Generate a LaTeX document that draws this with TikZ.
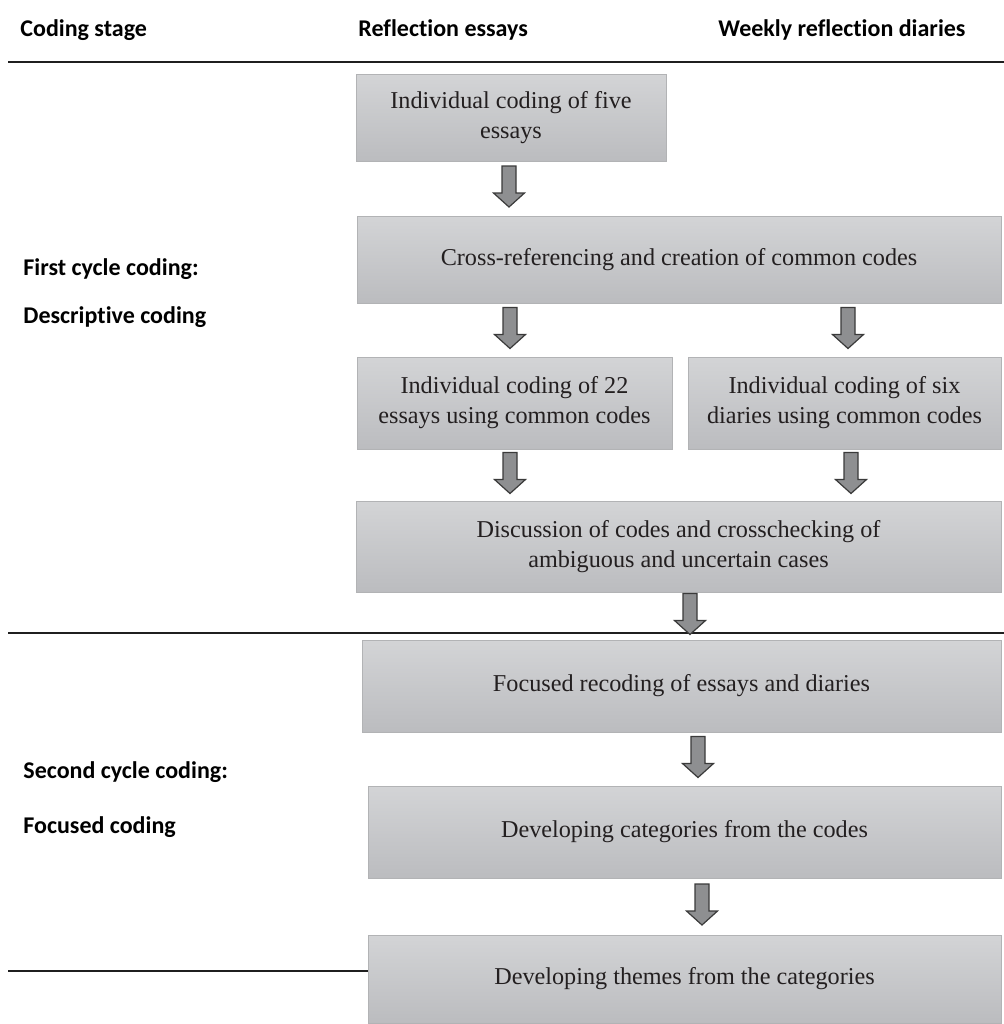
\documentclass[tikz,border=0pt]{standalone}
\usepackage{fontspec}
\setmainfont{Liberation Serif}
\newfontfamily\headfont{Carlito}[Ligatures=NoCommon]
\usetikzlibrary{calc}
\definecolor{boxtop}{HTML}{D3D4D6}
\definecolor{boxbot}{HTML}{BBBCBF}
\definecolor{boxedge}{HTML}{B2B3B5}
\definecolor{arrfill}{HTML}{8E8F91}
\definecolor{arredge}{HTML}{3A3A3A}
\definecolor{ink}{HTML}{231F20}
\tikzset{
  stagebox/.style={rectangle, top color=boxtop, bottom color=boxbot, draw=boxedge,
    line width=0.5pt, inner sep=0pt, align=center, text=ink,
    font=\fontsize{12.1}{15}\selectfont},
  heading/.style={anchor=west, inner sep=0pt, text=black,
    font=\headfont\bfseries\fontsize{12}{14}\selectfont},
  rule/.style={line width=1.25pt, draw=black!88},
  flowshape/.style={fill=arrfill, draw=arredge, line width=0.6pt, line join=miter}
}
% block arrow at the x of #1, centred in the gap between nodes #2 (above) and #3 (below)
\newcommand\flowarrow[3]{%
  \path[flowshape] let \p1=(#2.south -| #1), \p2=(#3.north -| #1),
      \n1={(\y1+\y2)/2+1pt} in
    ({\x1-3.5pt},{\n1+10.25pt}) -- ({\x1+3.5pt},{\n1+10.25pt})
    -- ({\x1+3.5pt},{\n1-3.25pt}) -- ({\x1+7.75pt},{\n1-3.25pt})
    -- (\x1,{\n1-10.25pt}) -- ({\x1-7.75pt},{\n1-3.25pt})
    -- ({\x1-3.5pt},{\n1-3.25pt}) -- cycle;}
\begin{document}
\begin{tikzpicture}[x=0.5pt,y=-0.5pt]
\useasboundingbox (0,0) rectangle (1004,1024);

% column headings
\node[heading] (hstage) at (20,30) {Coding stage};
\node[heading] (hessay) at (358,30) {Reflection essays};
\node[heading] (hdiary) at (718,30) {Weekly reflection diaries};

% stage separators
\draw[rule] (8,62) -- (1004,62);
\draw[rule] (8,633) -- (1004,633);
\draw[rule] (8,971) -- (368,971);

% stage labels
\node[heading] (first1) at (23,269) {First cycle coding:};
\node[heading] (first2) at (23,317) {Descriptive coding};
\node[heading] (second1) at (23,772) {Second cycle coding:};
\node[heading] (second2) at (23,827) {Focused coding};

% first cycle
\node[stagebox, minimum width=155pt, minimum height=43.5pt] (b1) at (511,117.5)
  {Individual coding of five\\essays};
\node[stagebox, minimum width=322pt, minimum height=43.5pt] (b2) at (679,259.5)
  {Cross-referencing and creation of common codes};
\node[stagebox, minimum width=157.5pt, minimum height=46pt] (b3) at (514.5,403)
  {Individual coding of 22\\essays using common codes};
\node[stagebox, minimum width=156.5pt, minimum height=46pt] (b4) at (844.5,403)
  {Individual coding of six\\diaries using common codes};
\node[stagebox, minimum width=322.5pt, minimum height=45.5pt] (b5) at (678.5,546.5)
  {Discussion of codes and crosschecking of\\ambiguous and uncertain cases};

% second cycle
\node[stagebox, minimum width=319.5pt, minimum height=46pt] (b6) at (681.5,686)
  {Focused recoding of essays and diaries};
\node[stagebox, minimum width=316.5pt, minimum height=46pt] (b7) at (684.5,832)
  {Developing categories from the codes};
\node[stagebox, minimum width=316.5pt, minimum height=44pt] (b8) at (684.5,979)
  {Developing themes from the categories};

% arrow columns
\coordinate (ax1) at (509,0);
\coordinate (ax2) at (510,0);
\coordinate (ax3) at (848,0);
\coordinate (ax4) at (510,0);
\coordinate (ax5) at (851,0);
\coordinate (ax6) at (690,0);
\coordinate (ax7) at (698,0);
\coordinate (ax8) at (702,0);

\flowarrow{ax1}{b1}{b2}
\flowarrow{ax2}{b2}{b3}
\flowarrow{ax3}{b2}{b4}
\flowarrow{ax4}{b3}{b5}
\flowarrow{ax5}{b4}{b5}
\flowarrow{ax6}{b5}{b6}
\flowarrow{ax7}{b6}{b7}
\flowarrow{ax8}{b7}{b8}
\end{tikzpicture}
\end{document}
